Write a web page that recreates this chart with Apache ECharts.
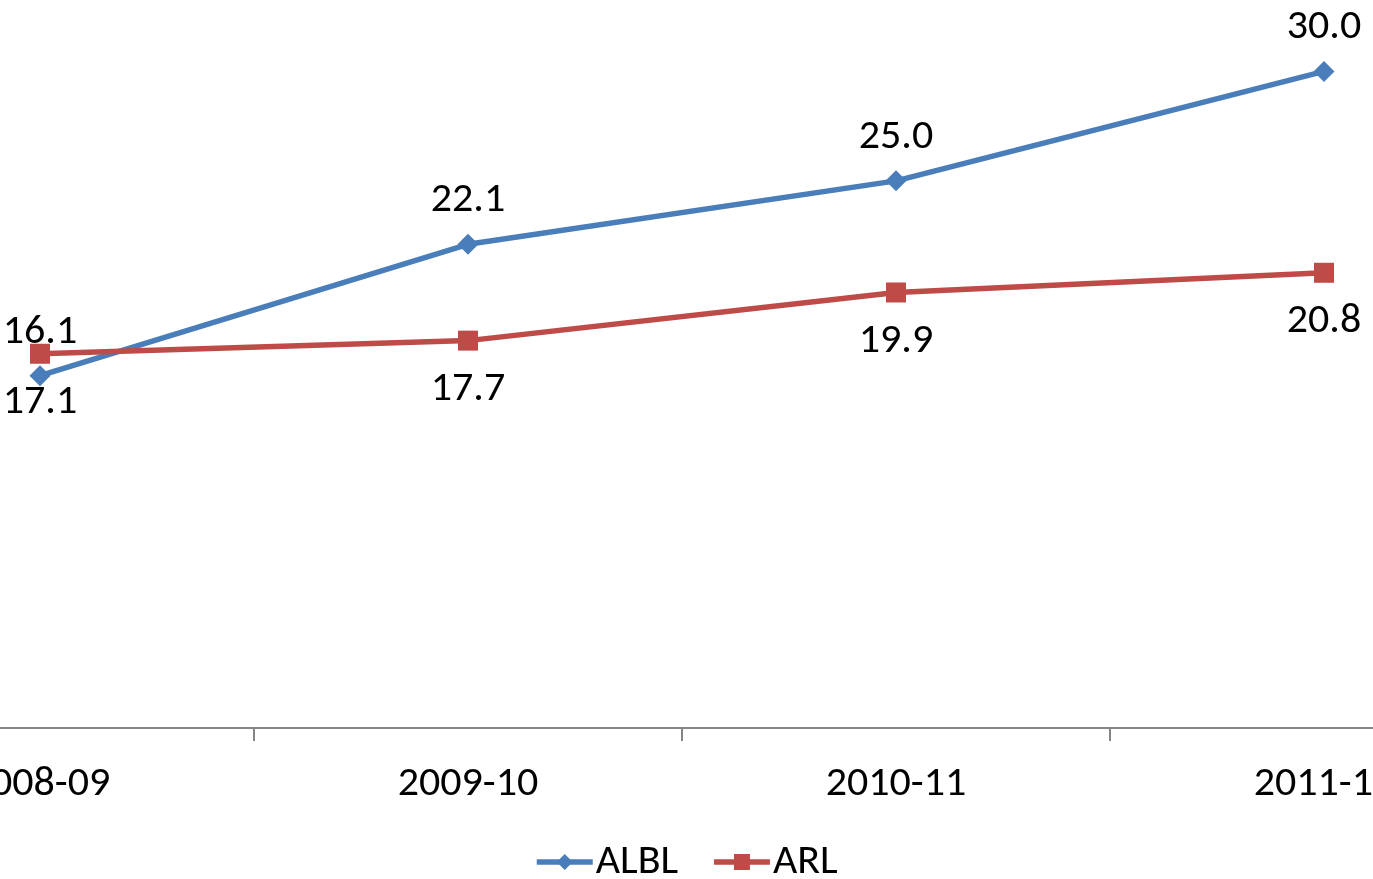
<!DOCTYPE html>
<html>
<head>
<meta charset="utf-8">
<script src="https://cdn.jsdelivr.net/npm/echarts@6/dist/echarts.min.js"></script>
<style>
  html, body { margin: 0; padding: 0; background: #fff; overflow: hidden; width: 1373px; height: 879px; position: relative; }
  /* The plot extends past the page edges on the left, right and top */
  #chart { position: absolute; left: -174px; top: -38px; width: 1712px; height: 917px; }
</style>
</head>
<body>
<div id="chart"></div>
<script>
// Fiscal years on the category axis
const years = ['2008-09', '2009-10', '2010-11', '2011-12'];
// Series values
const albl = [16.1, 22.1, 25.0, 30.0];
const arl = [17.1, 17.7, 19.9, 20.8];

const FONT = 'Carlito, Liberation Sans, Arial, sans-serif';
const FS = 42;
const BLUE = '#4A7EBB';
const RED = '#BE4B48';

const chart = echarts.init(document.getElementById('chart'));
chart.setOption({
  animation: false,
  backgroundColor: '#ffffff',
  textStyle: { fontFamily: FONT },
  grid: { left: 0, right: 0, top: 0, bottom: 151, containLabel: false },
  legend: {
    data: ['ALBL', 'ARL'],
    left: 703,
    top: 874,
    itemWidth: 56,
    itemHeight: 20,
    itemGap: 33,
    lineStyle: { width: 5.5 },
    textStyle: { fontFamily: FONT, fontSize: FS, color: '#000', padding: [0, 0, 0, -2] }
  },
  xAxis: {
    type: 'category',
    data: years,
    boundaryGap: true,
    axisLine: { lineStyle: { color: '#868686', width: 2 } },
    axisTick: { show: true, length: 13, lineStyle: { color: '#868686', width: 2 } },
    axisLabel: { fontFamily: FONT, fontSize: FS, color: '#000', margin: 35 },
    splitLine: { show: false }
  },
  yAxis: {
    type: 'value',
    min: 0,
    max: 35,
    interval: 5,
    show: false,
    splitLine: { show: false }
  },
  series: [
    {
      name: 'ALBL',
      type: 'line',
      data: albl,
      symbol: 'diamond',
      symbolSize: 21,
      lineStyle: { color: BLUE, width: 5.5 },
      itemStyle: { color: BLUE },
      label: {
        show: true,
        position: 'top',
        distance: 12,
        formatter: p => p.value.toFixed(1),
        fontFamily: FONT,
        fontSize: FS,
        color: '#000'
      }
    },
    {
      name: 'ARL',
      type: 'line',
      data: arl,
      symbol: 'rect',
      symbolSize: 20,
      lineStyle: { color: RED, width: 5.5 },
      itemStyle: { color: RED },
      label: {
        show: true,
        position: 'bottom',
        distance: 18,
        formatter: p => p.value.toFixed(1),
        fontFamily: FONT,
        fontSize: FS,
        color: '#000'
      }
    }
  ]
});
</script>
</body>
</html>
